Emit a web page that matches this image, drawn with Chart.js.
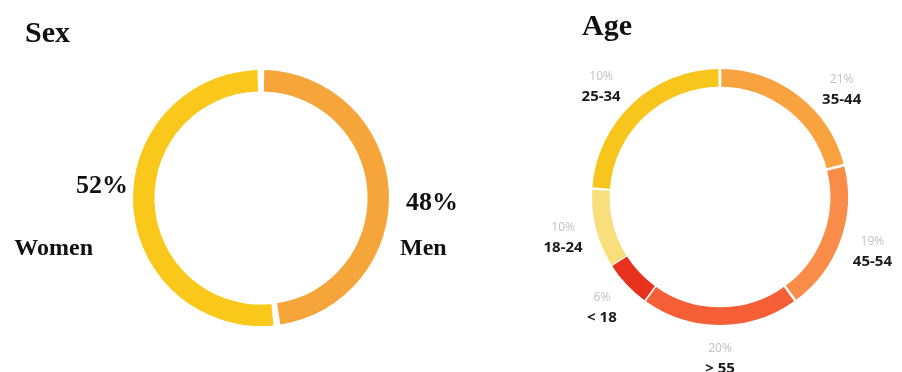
<!DOCTYPE html>
<html>
<head>
<meta charset="utf-8">
<script src="https://cdn.jsdelivr.net/npm/chart.js@4.4.1/dist/chart.umd.min.js"></script>
<style>
  html, body { margin: 0; padding: 0; background: #fff; }
  #wrap { position: relative; width: 902px; height: 372px; }
  canvas { position: absolute; top: 0; left: 0; }
</style>
</head>
<body>
<div id="wrap">
  <canvas id="c-sex" width="902" height="372"></canvas>
  <canvas id="c-age" width="902" height="372"></canvas>
</div>
<script>
/* Two ring charts: audience by sex and by age. */
const sexLabels = ["Men", "Women"];
const sexShare = [48, 52];
const sexPctText = ["48%", "52%"];

const ageLabels = ["35-44", "45-54", "> 55", "< 18", "18-24", "25-34"];
const ageShare = [21, 19, 20, 6, 10, 24];
const agePctText = ["21%", "19%", "20%", "6%", "10%", "10%"];

const sexColors = ["#f6a53b", "#f9c81a"];
const ageColors = ["#f8a33f", "#f88c48", "#f65f35", "#e6321c", "#f9df7c", "#f8c51c"];

const W = 902, H = 372, GAP = 4;
// padding so the ring sits at (cx, cy) with outer radius r
const pad = (cx, cy, r) => { const s = r + GAP / 2; return { left: cx - s, top: cy - s, right: W - cx - s, bottom: H - cy - s }; };

const ringLabels = {
  id: "ringLabels",
  afterDraw(chart, args, o) {
    const ctx = chart.ctx;
    ctx.save();
    ctx.fillStyle = "#111";
    ctx.textAlign = "left"; ctx.textBaseline = "alphabetic";
    ctx.font = "bold 30px 'Liberation Serif'";
    ctx.fillText(o.title, o.titleX, o.titleY);
    chart.getDatasetMeta(0).data.forEach((a, i) => o.draw(ctx, a, i));
    ctx.restore();
  }
};

function sexLabel(ctx, a, i) {
  const right = Math.cos((a.startAngle + a.endAngle) / 2) > 0, s = right ? 1 : -1;
  ctx.fillStyle = "#111"; ctx.textBaseline = "middle"; ctx.textAlign = right ? "left" : "right";
  ctx.font = "bold 26px 'Liberation Serif'";
  ctx.fillText(sexPctText[i], a.x + s * (a.outerRadius + (right ? 19 : 7)), a.y + (right ? 5 : -12));
  ctx.font = "bold 24px 'Liberation Serif'";
  ctx.fillText(sexLabels[i], a.x + s * (a.outerRadius + (right ? 13 : 42)), a.y + 51);
}

const ageNudge = { 0: 0.19, 5: -0.07 };
function ageLabel(ctx, a, i) {
  const mid = (a.startAngle + a.endAngle) / 2 + (ageNudge[i] || 0);
  const d = a.outerRadius + 36;
  const x = a.x + Math.cos(mid) * d, y = a.y + Math.sin(mid) * d;
  ctx.textAlign = "center"; ctx.textBaseline = "middle";
  ctx.font = "12px 'Open Sans'"; ctx.fillStyle = "#c2c2c2";
  ctx.fillText(agePctText[i], x, y - 10);
  ctx.font = "bold 15px 'Open Sans'"; ctx.fillStyle = "#1b1b1b";
  ctx.fillText(ageLabels[i], x, y + 10);
}

function ring(id, labels, data, colors, cutout, layout, opts) {
  return new Chart(document.getElementById(id), {
    type: "doughnut",
    data: { labels, datasets: [{ data, backgroundColor: colors, borderWidth: 0, spacing: GAP }] },
    options: {
      responsive: false, animation: false, events: [], cutout, layout: { padding: layout },
      plugins: { legend: { display: false }, tooltip: { enabled: false }, ringLabels: opts }
    },
    plugins: [ringLabels]
  });
}

ring("c-sex", sexLabels, sexShare, sexColors, "83%", pad(261, 198, 126),
  { title: "Sex", titleX: 25, titleY: 42, draw: sexLabel });
ring("c-age", ageLabels, ageShare, ageColors, "86%", pad(720, 197, 126),
  { title: "Age", titleX: 582, titleY: 35, draw: ageLabel });
</script>
</body>
</html>
